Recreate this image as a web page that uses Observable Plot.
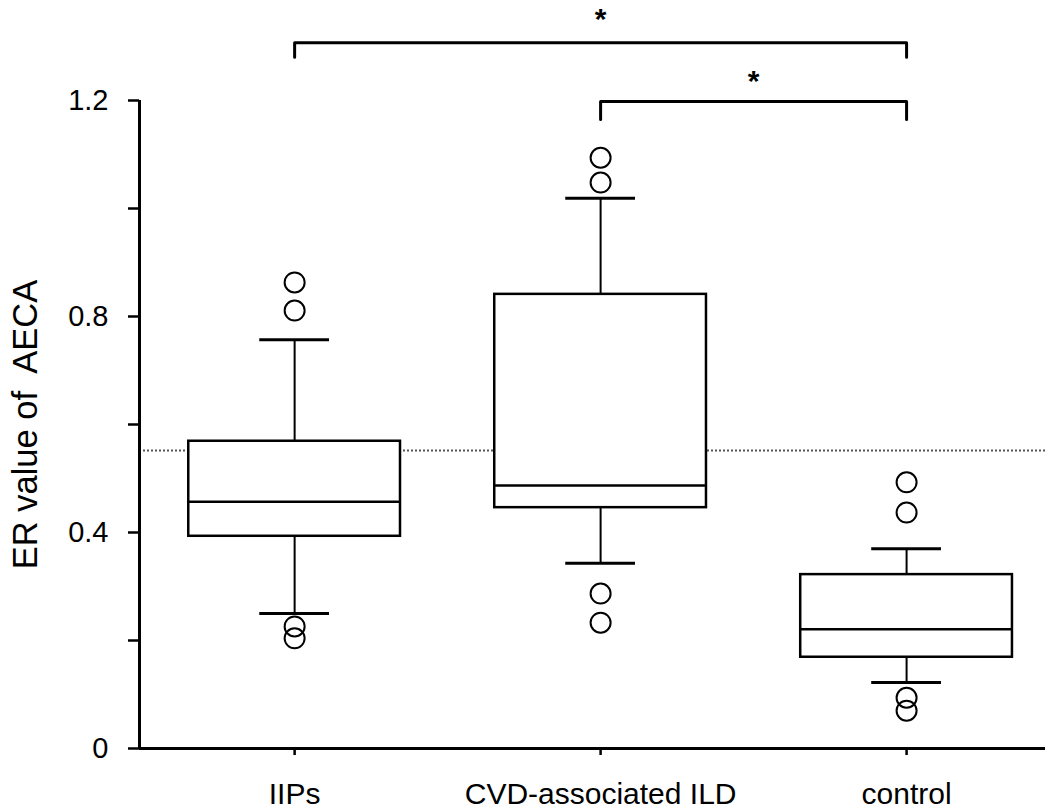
<!DOCTYPE html>
<html>
<head>
<meta charset="utf-8">
<script src="https://cdn.jsdelivr.net/npm/d3@7"></script>
<script src="https://cdn.jsdelivr.net/npm/@observablehq/plot@0.6"></script>
<style>
  body { margin: 0; background: #fff; }
  #chart svg { display: block; }
  #chart svg text.ylab { white-space: pre; }
</style>
</head>
<body>
<div id="chart"></div>
<script>
// ---- data ----
const groups = ["IIPs", "CVD-associated ILD", "control"];
const q1 = [0.393, 0.446, 0.169];
const median = [0.457, 0.487, 0.221];
const q3 = [0.569, 0.841, 0.322];
const whiskerLow = [0.250, 0.343, 0.122];
const whiskerHigh = [0.757, 1.019, 0.370];
const outlierGroup = ["IIPs", "IIPs", "IIPs", "IIPs",
  "CVD-associated ILD", "CVD-associated ILD", "CVD-associated ILD", "CVD-associated ILD",
  "control", "control", "control", "control"];
const outlierValue = [0.863, 0.811, 0.226, 0.204,
  1.094, 1.048, 0.287, 0.233,
  0.493, 0.437, 0.094, 0.070];
const cutoff = 0.552;
const yTicksLabeled = [0, 0.4, 0.8, 1.2];
const yTicksMinor = [0.2, 0.6, 1.0];
const bracketFrom = ["IIPs", "CVD-associated ILD"];
const bracketTo = ["control", "control"];
const bracketLevel = [1.307, 1.198];
const bracketFoot = [1.280, 1.165];
const bracketStarY = [1.350, 1.235];
const bracketLabel = ["*", "*"];
const yLabel = "ER value of  AECA";

// ---- derived tables ----
const idx = g => groups.indexOf(g);
const boxes = groups.map((g, i) => ({
  group: g, i, q1: q1[i], median: median[i], q3: q3[i],
  lo: whiskerLow[i], hi: whiskerHigh[i]
}));
const outliers = outlierGroup.map((g, k) => ({group: g, value: outlierValue[k]}));
const brackets = bracketFrom.map((f, k) => ({
  id: k, a: idx(f), b: idx(bracketTo[k]),
  level: bracketLevel[k], foot: bracketFoot[k], starY: bracketStarY[k], label: bracketLabel[k]
}));
const bracketPts = brackets.flatMap(d => [
  {id: d.id, x: d.a, y: d.foot},
  {id: d.id, x: d.a, y: d.level},
  {id: d.id, x: d.b, y: d.level},
  {id: d.id, x: d.b, y: d.foot}
]);

const xDomain = [-0.507, 2.454];
const boxHalf = 0.346;
const capHalf = 0.114;

const chart = Plot.plot({
  width: 1045,
  height: 810,
  marginTop: 100,
  marginBottom: 62,
  marginLeft: 139,
  marginRight: 0,
  style: {fontFamily: "'Liberation Sans', Arial, Helvetica, sans-serif", background: "#fff", color: "#000"},
  x: {type: "linear", domain: xDomain},
  y: {domain: [0, 1.2]},
  marks: [
    Plot.ruleY([cutoff], {stroke: "#555", strokeWidth: 2, strokeDasharray: "2,2"}),
    Plot.ruleX(boxes, {x: "i", y1: "lo", y2: "hi", stroke: "#000", strokeWidth: 2}),
    Plot.rect(boxes, {x1: d => d.i - boxHalf, x2: d => d.i + boxHalf, y1: "q1", y2: "q3",
      fill: "#fff", stroke: "#000", strokeWidth: 2.5}),
    Plot.ruleY(boxes, {y: "median", x1: d => d.i - boxHalf, x2: d => d.i + boxHalf, stroke: "#000", strokeWidth: 2.5}),
    Plot.ruleY(boxes, {y: "lo", x1: d => d.i - capHalf, x2: d => d.i + capHalf, stroke: "#000", strokeWidth: 3}),
    Plot.ruleY(boxes, {y: "hi", x1: d => d.i - capHalf, x2: d => d.i + capHalf, stroke: "#000", strokeWidth: 3}),
    Plot.dot(outliers, {x: d => idx(d.group), y: "value", r: 10, stroke: "#000", strokeWidth: 2, fill: "none"}),
    Plot.ruleY([0], {stroke: "#000", strokeWidth: 3}),
    Plot.ruleX([xDomain[0]], {y1: 0, y2: 1.2, stroke: "#000", strokeWidth: 3}),
    Plot.axisY({ticks: yTicksLabeled, tickFormat: d => String(d), tickSize: 11, tickPadding: 20,
      fontSize: 29, label: null, strokeWidth: 2.5}),
    Plot.axisY({ticks: yTicksMinor, tickFormat: () => "", tickSize: 11, label: null, strokeWidth: 2.5}),
    Plot.axisX({ticks: [0, 1, 2], tickFormat: i => groups[i], tickSize: 7, tickPadding: 27,
      fontSize: 30, label: null, strokeWidth: 2.5}),
    Plot.line(bracketPts, {x: "x", y: "y", z: "id", stroke: "#000", strokeWidth: 3, clip: false}),
    Plot.text(brackets, {x: d => (d.a + d.b) / 2, y: "starY", text: "label", fontSize: 30, fontWeight: "bold"}),
    Plot.text([yLabel], {frameAnchor: "left", textAnchor: "middle", rotate: -90, dx: -114, fontSize: 34.5, className: "ylab"})
  ]
});
chart.querySelectorAll("text").forEach(t => {
  if (t.textContent === yLabel) t.setAttribute("xml:space", "preserve");
});
chart.querySelectorAll(".ylab text, text.ylab").forEach(t => t.style.whiteSpace = "pre");
document.getElementById("chart").appendChild(chart);
</script>
</body>
</html>
